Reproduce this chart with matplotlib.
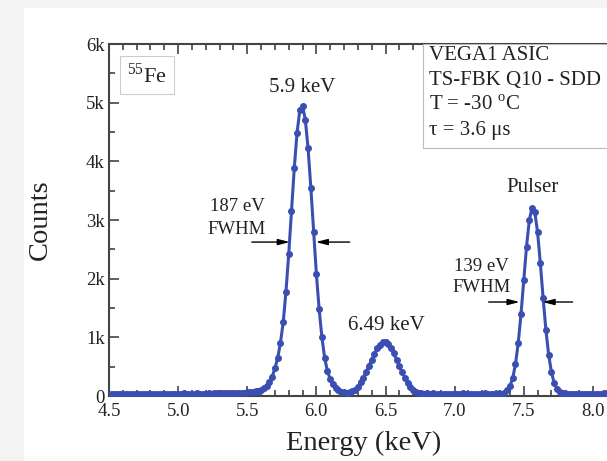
import numpy as np
import matplotlib
matplotlib.use('Agg')
import matplotlib.pyplot as plt
from matplotlib.patches import Rectangle

plt.rcParams['font.family'] = ['Liberation Serif', 'DejaVu Serif']
plt.rcParams['mathtext.fontset'] = 'custom'
plt.rcParams['mathtext.rm'] = 'Liberation Serif'

# spectrum: bin centres (keV) and counts
energy = np.linspace(4.5, 8.5, 201)
counts = [
    38, 35, 41, 33, 37, 40, 36, 34, 39, 42,
    35, 38, 33, 40, 37, 36, 41, 39, 34, 38,
    42, 37, 35, 40, 38, 39, 36, 43, 38, 41,
    37, 40, 44, 39, 42, 41, 45, 40, 43, 46,
    44, 48, 45, 50, 47, 52, 49, 55, 53, 58,
    # 5.50 - 5.98
    60, 66, 71, 80, 92, 104, 128, 168, 232, 330,
    470, 645, 905, 1255, 1780, 2420, 3150, 3880, 4480, 4870,
    4950, 4710, 4220, 3550, 2800,
    # 6.00 - 6.48
    2080, 1480, 1000, 650, 420, 290, 200, 140, 100, 75,
    62, 58, 65, 78, 108, 150, 235, 315, 405, 510,
    620, 720, 810, 875, 915,
    # 6.50 - 6.98
    925, 880, 815, 725, 620, 510, 405, 310, 220, 150,
    100, 72, 54, 46, 42, 44, 40, 43, 38, 41,
    39, 42, 37, 40, 38,
    # 7.00 - 7.48
    41, 37, 40, 43, 38, 40, 36, 42, 39, 41,
    38, 43, 40, 37, 42, 40, 44, 41, 52, 95,
    167, 304, 540, 902, 1393,
    # 7.50 - 7.98
    1969, 2543, 2993, 3210, 3136, 2791, 2263, 1674, 1133, 705,
    408, 225, 125, 75, 53, 44, 41, 38, 42, 39,
    40, 37, 41, 38, 42,
    # 8.00 - 8.50
    39, 41, 37, 40, 43, 38, 41, 39, 42, 37,
    40, 38, 43, 39, 41, 37, 40, 42, 38, 41,
    39, 43, 38, 40, 37, 41,
]

yticks = [0, 1000, 2000, 3000, 4000, 5000, 6000]
ytick_labels = ['0', '1k', '2k', '3k', '4k', '5k', '6k']
xticks = [4.5, 5.0, 5.5, 6.0, 6.5, 7.0, 7.5, 8.0, 8.5]
info_lines = ['VEGA1 ASIC', 'TS-FBK Q10 - SDD', 'T = -30 $^{\\mathrm{o}}$C', 'τ = 3.6 μs']

BLUE = '#3b4fb3'
INK = '#222222'

fig = plt.figure(figsize=(6.07, 4.61), dpi=100, facecolor='#f3f3f3')
fig.patches.append(Rectangle((24 / 607, 0), 1, 1 - 8.5 / 461, transform=fig.transFigure,
                             facecolor='white', edgecolor='none', zorder=-10))

# axes run past the right edge of the picture, like the cropped original
ax = fig.add_axes([109 / 607, 65 / 461, 553 / 607, 352 / 461])
ax.plot(energy, counts, '-o', color=BLUE, lw=2.2, ms=4, mec=BLUE, mfc=BLUE, zorder=3)

ax.set_xlim(4.5, 8.5)
ax.set_ylim(0, 6000)
ax.set_xticks(xticks)
ax.set_xticklabels([f'{v:.1f}' for v in xticks])
ax.set_xticks(np.arange(4.5, 8.51, 0.1), minor=True)
ax.set_yticks(yticks)
ax.set_yticklabels(ytick_labels)
ax.set_yticks(np.arange(500, 6000, 1000), minor=True)
ax.tick_params(which='both', direction='in', top=True, right=True, colors='#444444',
               labelcolor=INK, labelsize=13.5, width=1.2)
ax.tick_params(which='major', length=7, pad=3)
ax.tick_params(axis='x', which='major', pad=5)
ax.tick_params(which='minor', length=4)
for s in ax.spines.values():
    s.set_color('#444444')
    s.set_linewidth(1.5)

ax.set_xlabel('Energy (keV)', fontsize=20.5, color=INK)
ax.xaxis.set_label_coords(255 / 553, -0.10)
ax.set_ylabel('Counts', fontsize=20.5, color=INK, labelpad=24)

# labels on the peaks
ax.text(5.895, 5265, '5.9 keV', fontsize=15, color=INK, ha='center', va='center')
ax.text(6.509, 1210, '6.49 keV', fontsize=15, color=INK, ha='center', va='center')
ax.text(7.564, 3561, 'Pulser', fontsize=15, color=INK, ha='center', va='center')
ax.text(5.425, 3238, '187 eV', fontsize=13.5, color=INK, ha='center', va='center')
ax.text(5.425, 2846, 'FWHM', fontsize=13.5, color=INK, ha='center', va='center')
ax.text(7.195, 2215, '139 eV', fontsize=13.5, color=INK, ha='center', va='center')
ax.text(7.195, 1857, 'FWHM', fontsize=13.5, color=INK, ha='center', va='center')

arrow = dict(arrowstyle='-|>,head_length=0.7,head_width=0.18', color='black', lw=1.0,
             shrinkA=0, shrinkB=0)
ax.annotate('', xy=(5.808, 2624), xytext=(5.533, 2624), arrowprops=arrow)
ax.annotate('', xy=(5.996, 2624), xytext=(6.241, 2624), arrowprops=arrow)
ax.annotate('', xy=(7.470, 1602), xytext=(7.246, 1602), arrowprops=arrow)
ax.annotate('', xy=(7.636, 1602), xytext=(7.853, 1602), arrowprops=arrow)

ax.text(4.775, 5470, '$^{\\mathrm{55}}$Fe', fontsize=16, color=INK, ha='center', va='center',
        bbox=dict(boxstyle='square,pad=0.3', facecolor='white', edgecolor='#cccccc', lw=0.8))

# info box in the top right corner
ax.add_patch(Rectangle((6.769, 4226), 2.0, 1774, facecolor='white', edgecolor='#bbbbbb',
                       lw=0.8, zorder=4))
for i, line in enumerate(info_lines):
    ax.text(6.812, 5811 - i * 426, line, fontsize=15, color=INK, ha='left', va='center',
            zorder=5)

plt.savefig('out.png', dpi=100, facecolor=fig.get_facecolor())
